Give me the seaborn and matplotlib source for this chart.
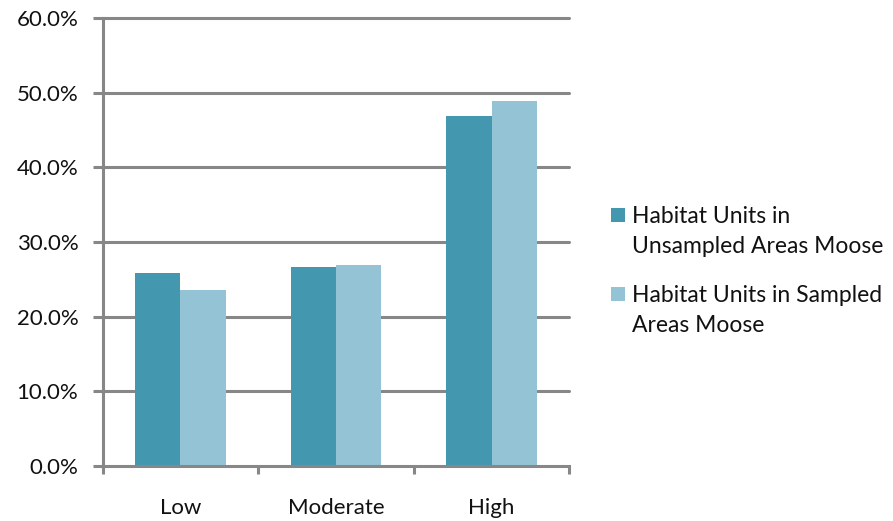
import matplotlib
matplotlib.use("Agg")
import matplotlib.pyplot as plt
import seaborn as sns
import pandas as pd
from matplotlib.patches import Rectangle
from matplotlib.ticker import FuncFormatter, FixedLocator

categories = ["Low", "Moderate", "High"]
series_names = ["Habitat Units in\nUnsampled Areas Moose",
                "Habitat Units in Sampled\nAreas Moose"]
unsampled = [25.9, 26.7, 46.9]
sampled = [23.6, 26.9, 48.9]
y_ticks = [0, 10, 20, 30, 40, 50, 60]

colors = ["#4398B0", "#93C3D5"]
grid_color = "#878787"
text_color = "#111111"

df = pd.DataFrame({
    "level": categories * 2,
    "pct": unsampled + sampled,
    "series": [series_names[0]] * 3 + [series_names[1]] * 3,
})

sns.set_theme(style="white")
plt.rcParams["font.family"] = ["Lato", "DejaVu Sans"]

W, H = 893, 521
fig = plt.figure(figsize=(W / 100, H / 100), dpi=100)
ax = fig.add_axes([0.115, 0.1056, 0.5225, 0.86])

sns.barplot(data=df, x="level", y="pct", hue="series", order=categories,
            hue_order=series_names, palette=colors, saturation=1,
            width=0.58, gap=0, ax=ax, legend=False, linewidth=0, zorder=3)

ax.set_xlim(-0.5, 2.5)
ax.set_ylim(0, 60)
ax.set_xlabel("")
ax.set_ylabel("")

# horizontal gridlines
for t in y_ticks[1:]:
    ax.axhline(t, color=grid_color, lw=2.2, zorder=1, clip_on=False)

for s in ["top", "right"]:
    ax.spines[s].set_visible(False)
for s in ["left", "bottom"]:
    ax.spines[s].set_color(grid_color)
    ax.spines[s].set_linewidth(2.2)
    ax.spines[s].set_zorder(4)

ax.yaxis.set_major_locator(FixedLocator(y_ticks))
ax.yaxis.set_major_formatter(FuncFormatter(lambda v, p: f"{v:.1f}%"))
ax.tick_params(axis="y", which="major", direction="out", length=7.5, width=2.2,
               color=grid_color, labelsize=16, pad=10, labelcolor=text_color, left=True)

ax.set_xticks([0, 1, 2])
ax.set_xticklabels(categories)
ax.xaxis.set_minor_locator(FixedLocator([-0.5, 0.5, 1.5, 2.5]))
ax.tick_params(axis="x", which="major", length=0, labelsize=16, pad=23,
               labelcolor=text_color)
ax.tick_params(axis="x", which="minor", direction="out", length=6, width=2.2,
               color=grid_color, bottom=True)

# legend: colour square beside the first line of each two-line label
entry_tops = [208, 287]
for color, name, top in zip(colors, series_names, entry_tops):
    fig.patches.append(Rectangle((611 / W, 1 - (top + 14) / H), 14 / W, 14 / H,
                                 transform=fig.transFigure, facecolor=color,
                                 edgecolor="none"))
    for i, line in enumerate(name.split("\n")):
        fig.text(632 / W, 1 - (top + 15 + 30 * i) / H, line, fontsize=16.5,
                 color=text_color, ha="left", va="baseline")

fig.savefig("out.png", dpi=100, facecolor="white")
